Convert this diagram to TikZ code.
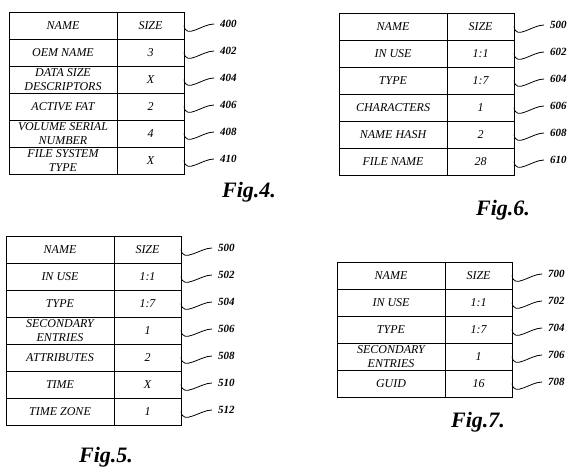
\documentclass[tikz,border=0pt]{standalone}
\usepackage{fontspec}
\setmainfont{Liberation Serif}
\begin{document}
\begin{tikzpicture}[x=1pt, y=-1pt,
    cell/.style={draw, line width=1pt, rectangle, inner sep=0pt, outer sep=0pt,
        minimum height=27pt, align=center, font=\fontsize{12}{14.5}\selectfont\itshape},
    namecell/.style={cell, minimum width=108pt},
    sizecell/.style={cell, minimum width=67pt},
    refnum/.style={anchor=west, inner sep=0pt, outer xsep=6pt,
        font=\fontsize{11}{12}\selectfont\bfseries\itshape},
    figcap/.style={font=\fontsize{22}{24}\selectfont\bfseries\itshape},
    squig/.style={line width=0.8pt, to path={.. controls +(2,14) and +(-12,0) .. (\tikztotarget)}}
]
\useasboundingbox (0,0) rectangle (576,474);

% Fig. 4
\foreach \nm/\sz/\lb [count=\i] in {NAME/SIZE/400, OEM NAME/3/402,
    DATA SIZE\\DESCRIPTORS/X/404, ACTIVE FAT/2/406,
    VOLUME SERIAL\\NUMBER/4/408, FILE SYSTEM\\TYPE/X/410} {
  \node[namecell, anchor=north west] (n4-\i) at (9, 12+27*\i-27) {\nm};
  \node[sizecell, anchor=west] (s4-\i) at (n4-\i.east) {\sz};
  \node[refnum] (r4-\i) at (214, 12+27*\i-15) {\lb};
  \draw[squig] (s4-\i.east) to (r4-\i.west);
}
\node[figcap] (f4) at (249,192) {Fig.4.};

% Fig. 6
\foreach \nm/\sz/\lb [count=\i] in {NAME/SIZE/500, IN USE/1:1/602,
    TYPE/1:7/604, CHARACTERS/1/606, NAME HASH/2/608, FILE NAME/28/610} {
  \node[namecell, anchor=north west] (n6-\i) at (339, 13+27*\i-27) {\nm};
  \node[sizecell, anchor=west] (s6-\i) at (n6-\i.east) {\sz};
  \node[refnum] (r6-\i) at (544, 13+27*\i-15) {\lb};
  \draw[squig] (s6-\i.east) to (r6-\i.west);
}
\node[figcap] (f6) at (503,210) {Fig.6.};

% Fig. 5
\foreach \nm/\sz/\lb [count=\i] in {NAME/SIZE/500, IN USE/1:1/502,
    TYPE/1:7/504, SECONDARY\\ENTRIES/1/506, ATTRIBUTES/2/508,
    TIME/X/510, TIME ZONE/1/512} {
  \node[namecell, anchor=north west] (n5-\i) at (6, 236+27*\i-27) {\nm};
  \node[sizecell, anchor=west] (s5-\i) at (n5-\i.east) {\sz};
  \node[refnum] (r5-\i) at (212, 236+27*\i-15) {\lb};
  \draw[squig] (s5-\i.east) to (r5-\i.west);
}
\node[figcap] (f5) at (106,457) {Fig.5.};

% Fig. 7
\foreach \nm/\sz/\lb [count=\i] in {NAME/SIZE/700, IN USE/1:1/702,
    TYPE/1:7/704, SECONDARY\\ENTRIES/1/706, GUID/16/708} {
  \node[namecell, anchor=north west] (n7-\i) at (337, 262+27*\i-27) {\nm};
  \node[sizecell, anchor=west] (s7-\i) at (n7-\i.east) {\sz};
  \node[refnum] (r7-\i) at (542, 262+27*\i-15) {\lb};
  \draw[squig] (s7-\i.east) to (r7-\i.west);
}
\node[figcap] (f7) at (478,422) {Fig.7.};
\end{tikzpicture}
\end{document}
